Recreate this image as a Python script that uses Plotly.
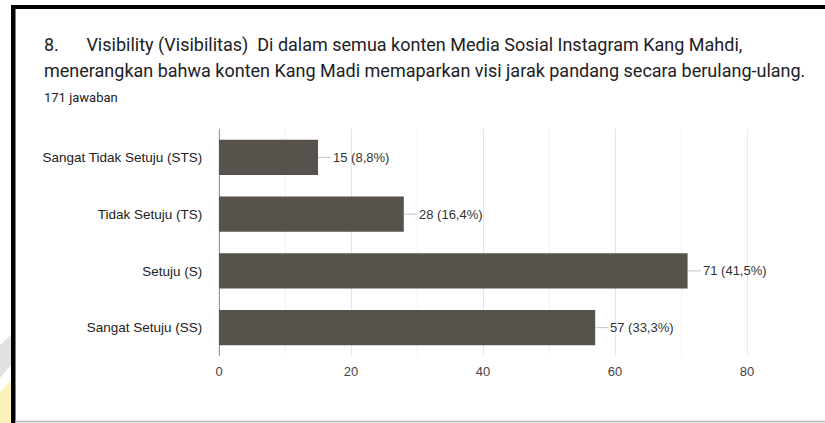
import plotly.graph_objects as go

# Survey responses (171 answers)
categories = [
    "Sangat Tidak Setuju (STS)",
    "Tidak Setuju (TS)",
    "Setuju (S)",
    "Sangat Setuju (SS)",
]
counts = [15, 28, 71, 57]
percent_labels = ["8,8%", "16,4%", "41,5%", "33,3%"]
x_ticks = [0, 20, 40, 60, 80]

title_line1 = "8.\u2003\u2002Visibility (Visibilitas)  Di dalam semua konten Media Sosial Instagram Kang Mahdi,"
title_line2 = "menerangkan bahwa konten Kang Madi memaparkan visi jarak pandang secara berulang-ulang."
subtitle = "171 jawaban"

W, H = 825, 423
ML, MR, MT, MB = 219, 78, 129, 67
PW, PH = W - ML - MR, H - MT - MB


def px(x):
    """Pixel x -> paper fraction."""
    return (x - ML) / PW


def py(y):
    """Pixel y (from top) -> paper fraction."""
    return 1 - (y - MT) / PH


BAR = "#57524b"
LEADER = 2.0  # leader line length in axis units
TEXT_X = 42

fig = go.Figure(
    go.Bar(
        x=counts,
        y=categories,
        orientation="h",
        marker=dict(color=BAR, line=dict(width=0)),
        hoverinfo="skip",
    )
)

shapes = []
annotations = []

# value labels with short leader lines
for cat, v, p in zip(categories, counts, percent_labels):
    shapes.append(dict(type="line", xref="x", yref="y", x0=v, x1=v + LEADER,
                       y0=cat, y1=cat, line=dict(color="#c4c4c4", width=1)))
    annotations.append(dict(xref="x", yref="y", x=v + LEADER, y=cat,
                            text=f"{v} ({p})", showarrow=False,
                            xanchor="left", yanchor="middle", xshift=0,
                            font=dict(family="Liberation Sans, Arial", size=13, color="#333333")))

# card frame: black top and left bands, grey bottom rule
shapes += [
    dict(type="rect", xref="paper", yref="paper", x0=px(11), x1=px(825),
         y0=py(9), y1=py(5), fillcolor="black", line=dict(width=0), layer="above"),
    dict(type="rect", xref="paper", yref="paper", x0=px(11), x1=px(15.5),
         y0=py(423), y1=py(5), fillcolor="black", line=dict(width=0), layer="above"),
    dict(type="line", xref="paper", yref="paper", x0=px(15), x1=px(825),
         y0=py(421.5), y1=py(421.5), line=dict(color="#b4b4b4", width=1.5)),
    # faint watermark at the lower-left edge
    dict(type="path", xref="paper", yref="paper",
         path=f"M {px(0)} {py(345)} L {px(11)} {py(335)} L {px(11)} {py(365)} L {px(0)} {py(378)} Z",
         fillcolor="rgba(200,200,200,0.55)", line=dict(width=0)),
    dict(type="path", xref="paper", yref="paper",
         path=f"M {px(0)} {py(392)} L {px(11)} {py(380)} L {px(11)} {py(423)} L {px(0)} {py(423)} Z",
         fillcolor="rgba(250,240,170,0.8)", line=dict(width=0)),
]

# heading text
annotations += [
    dict(xref="paper", yref="paper", x=px(TEXT_X), y=py(45), text=title_line1,
         showarrow=False, xanchor="left", yanchor="middle",
         font=dict(family="Roboto", size=18, color="#202124")),
    dict(xref="paper", yref="paper", x=px(TEXT_X), y=py(70), text=title_line2,
         showarrow=False, xanchor="left", yanchor="middle",
         font=dict(family="Roboto", size=18, color="#202124")),
    dict(xref="paper", yref="paper", x=px(TEXT_X), y=py(97), text=subtitle,
         showarrow=False, xanchor="left", yanchor="middle",
         font=dict(family="Roboto", size=13, color="#202124")),
]

fig.update_layout(
    width=W, height=H,
    margin=dict(l=ML, r=MR, t=MT, b=MB, pad=0),
    paper_bgcolor="white", plot_bgcolor="white",
    bargap=0.38,
    showlegend=False,
    shapes=shapes,
    annotations=annotations,
    xaxis=dict(
        range=[0, 80], tickvals=x_ticks, ticks="", showline=False,
        showgrid=True, gridcolor="#e6e6e6", gridwidth=1,
        minor=dict(dtick=10, showgrid=True, gridcolor="#f3f3f3", gridwidth=1),
        zeroline=True, zerolinecolor="#9a9a9a", zerolinewidth=1,
        tickfont=dict(family="Liberation Sans, Arial", size=13, color="#444444"),
        ticklabelstandoff=6, fixedrange=True,
    ),
    yaxis=dict(
        autorange="reversed", showgrid=False, ticks="",
        showline=True, mirror=True, linecolor="#ececec", linewidth=1,
        tickfont=dict(family="Liberation Sans, Arial", size=13.5, color="#222222"),
        ticklabelstandoff=13, fixedrange=True,
    ),
)

fig.write_html("out.html", config={"displayModeBar": False})
